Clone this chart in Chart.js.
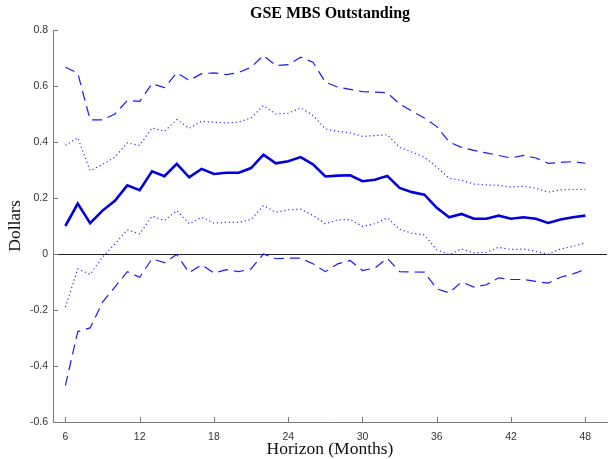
<!DOCTYPE html>
<html>
<head>
<meta charset="utf-8">
<script src="https://cdn.jsdelivr.net/npm/chart.js@4/dist/chart.umd.min.js"></script>
<style>
  html, body { margin: 0; padding: 0; background: #fff; }
  #wrap { width: 609px; height: 459px; }
</style>
</head>
<body>
<div id="wrap"><canvas id="chart" width="609" height="459"></canvas></div>
<script>
// horizon in months
const months = [6, 7, 8, 9, 10, 11, 12, 13, 14, 15, 16, 17, 18, 19, 20, 21, 22, 23, 24, 25, 26, 27, 28, 29, 30, 31, 32, 33, 34, 35, 36, 37, 38, 39, 40, 41, 42, 43, 44, 45, 46, 47, 48];

// point estimate (solid)
const response = [0.10, 0.18, 0.11, 0.155, 0.19, 0.245, 0.228, 0.295, 0.278, 0.322,
  0.274, 0.304, 0.286, 0.29, 0.29, 0.307, 0.355, 0.324, 0.331, 0.346,
  0.32, 0.277, 0.28, 0.281, 0.26, 0.265, 0.279, 0.236, 0.221, 0.212,
  0.165, 0.131, 0.143, 0.126, 0.126, 0.137, 0.126, 0.131, 0.126, 0.111,
  0.123, 0.131, 0.137];

// outer band (dashed)
const upperDash = [0.667, 0.646, 0.479, 0.479, 0.50, 0.548, 0.545, 0.608, 0.594, 0.647,
  0.62, 0.644, 0.647, 0.641, 0.648, 0.667, 0.709, 0.673, 0.676, 0.703,
  0.685, 0.614, 0.596, 0.588, 0.58, 0.578, 0.576, 0.536, 0.51, 0.486,
  0.455, 0.40, 0.381, 0.37, 0.361, 0.352, 0.343, 0.352, 0.343, 0.324,
  0.327, 0.33, 0.324];
const lowerDash = [-0.47, -0.277, -0.264, -0.172, -0.118, -0.063, -0.083, -0.017, -0.031, -0.002,
  -0.067, -0.039, -0.068, -0.056, -0.063, -0.053, 0.0, -0.017, -0.015, -0.015,
  -0.035, -0.063, -0.035, -0.023, -0.059, -0.05, -0.015, -0.063, -0.064, -0.065,
  -0.124, -0.139, -0.10, -0.118, -0.11, -0.085, -0.091, -0.091, -0.098, -0.104,
  -0.083, -0.071, -0.055];

// inner band (dotted)
const upperDot = [0.388, 0.415, 0.298, 0.32, 0.346, 0.397, 0.388, 0.45, 0.438, 0.48,
  0.449, 0.474, 0.471, 0.468, 0.471, 0.486, 0.53, 0.50, 0.503, 0.522,
  0.495, 0.447, 0.438, 0.433, 0.42, 0.423, 0.426, 0.381, 0.364, 0.346,
  0.31, 0.271, 0.263, 0.25, 0.247, 0.245, 0.239, 0.242, 0.235, 0.221,
  0.229, 0.231, 0.231];
const lowerDot = [-0.19, -0.053, -0.073, -0.011, 0.036, 0.086, 0.072, 0.135, 0.12, 0.155,
  0.108, 0.131, 0.11, 0.113, 0.113, 0.123, 0.173, 0.149, 0.158, 0.16,
  0.138, 0.108, 0.122, 0.123, 0.099, 0.108, 0.129, 0.088, 0.074, 0.068,
  0.015, -0.002, 0.018, 0.004, 0.006, 0.024, 0.016, 0.018, 0.009, 0.0,
  0.018, 0.027, 0.039];

const xTicks = [6, 12, 18, 24, 30, 36, 42, 48];
const yTicks = [-0.6, -0.4, -0.2, 0, 0.2, 0.4, 0.6, 0.8];

const AXIS = "#7a7a7a";
const BLUE = "#0000dd";

const pts = (ys) => months.map((m, i) => ({ x: m, y: ys[i] }));

// little inward tick marks like the matlab figure
const innerTicks = {
  id: "innerTicks",
  afterDatasetsDraw(chart) {
    const { ctx, scales: { x, y }, chartArea } = chart;
    ctx.save();
    ctx.strokeStyle = AXIS;
    ctx.lineWidth = 1;
    ctx.beginPath();
    xTicks.forEach((t) => {
      const px = Math.round(x.getPixelForValue(t)) + 0.5;
      ctx.moveTo(px, chartArea.bottom);
      ctx.lineTo(px, chartArea.bottom - 5);
    });
    yTicks.forEach((t) => {
      const py = Math.round(y.getPixelForValue(t)) + 0.5;
      ctx.moveTo(chartArea.left, py);
      ctx.lineTo(chartArea.left + 5, py);
    });
    ctx.stroke();
    ctx.restore();
  },
};

const line = (data, dash, width, color) => ({
  data: pts(data),
  borderColor: color,
  borderWidth: width,
  borderDash: dash,
  pointRadius: 0,
  tension: 0,
  fill: false,
});

new Chart(document.getElementById("chart"), {
  type: "line",
  data: {
    datasets: [
      line(upperDash, [10, 6], 1.2, "#1a1aff"),
      line(lowerDash, [10, 6], 1.2, "#1a1aff"),
      line(upperDot, [1.2, 2.8], 1.2, "#2a2aff"),
      line(lowerDot, [1.2, 2.8], 1.2, "#2a2aff"),
      line(response, [], 2.6, BLUE),
    ],
  },
  options: {
    responsive: false,
    animation: false,
    layout: { padding: { left: 0, right: 2, top: 0, bottom: 0 } },
    plugins: {
      legend: { display: false },
      tooltip: { enabled: false },
      title: {
        display: true,
        text: "GSE MBS Outstanding",
        fullSize: false,
        color: "#000",
        font: { family: "Liberation Serif", size: 16, weight: "bold", lineHeight: 1.2 },
        padding: { top: 4, bottom: 6.8 },
      },
    },
    scales: {
      x: {
        type: "linear",
        min: 5,
        max: 49.75,
        afterBuildTicks: (s) => { s.ticks = xTicks.map((v) => ({ value: v })); },
        afterFit: (s) => { s.height = 37; },
        grid: { drawTicks: false, color: "transparent" },
        border: { color: AXIS, width: 1 },
        ticks: {
          padding: 9,
          color: "#333",
          font: { family: "Liberation Sans", size: 10.5 },
          callback: (v) => String(v),
        },
        title: {
          display: true,
          text: "Horizon (Months)",
          color: "#111",
          font: { family: "Liberation Serif", size: 17.5, lineHeight: 1.2 },
          padding: { top: 0, bottom: -1 },
        },
      },
      y: {
        min: -0.6,
        max: 0.8,
        afterBuildTicks: (s) => { s.ticks = yTicks.map((v) => ({ value: v })); },
        afterFit: (s) => { s.width = 53; },
        grid: {
          drawTicks: false,
          color: (c) => (c.tick && Math.abs(c.tick.value) < 1e-9 ? "#222" : "transparent"),
          lineWidth: 1,
        },
        border: { color: AXIS, width: 1 },
        ticks: {
          padding: 5,
          color: "#333",
          font: { family: "Liberation Sans", size: 10.5 },
          callback: (v) => (Math.abs(v) < 1e-9 ? "0" : v.toFixed(1)),
        },
        title: {
          display: true,
          text: "Dollars",
          color: "#111",
          font: { family: "Liberation Serif", size: 17.5, lineHeight: 1.2 },
          padding: { top: 5, bottom: 0 },
        },
      },
    },
  },
  plugins: [innerTicks],
});
</script>
</body>
</html>
